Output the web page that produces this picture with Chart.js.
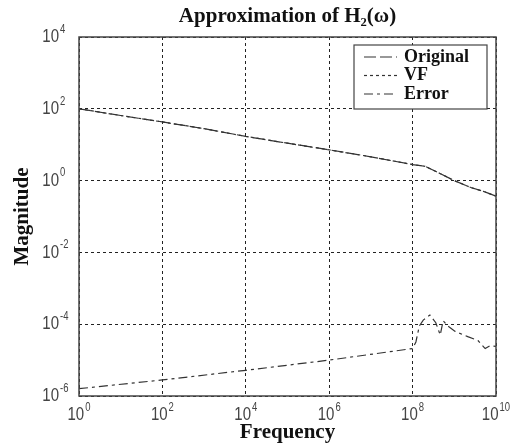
<!DOCTYPE html>
<html>
<head>
<meta charset="utf-8">
<script src="https://cdn.jsdelivr.net/npm/chart.js@4.4.1/dist/chart.umd.min.js"></script>
<style>
  body { margin: 0; background: #fff; }
</style>
</head>
<body>
<canvas id="myChart" width="517" height="447"></canvas>
<script>
// frequency points for the original / VF curves
const freq = [1, 1e1, 1e2, 1e3, 1e4, 1e5, 1e6, 1e7, 1e8, 2e8, 4e8, 1e9, 2.5e9, 5e9, 1e10];
const original = [100, 65, 43, 28, 17, 11, 7.2, 4.6, 2.8, 2.5, 1.7, 1.0, 0.64, 0.5, 0.37];
const vf = [100, 65, 43, 28, 17, 11, 7.2, 4.6, 2.8, 2.5, 1.7, 1.0, 0.64, 0.5, 0.37];

// error curve
const errFreq = [1, 1e2, 1e4, 1e6, 1e8, 1.2e8, 1.45e8, 1.8e8, 2.6e8, 3.6e8, 4.6e8, 5.4e8, 7e8, 1.05e9, 2.1e9, 3.7e9, 5.5e9, 7.2e9, 1e10];
const error = [1.6e-6, 2.8e-6, 5.2e-6, 1e-5, 2.1e-5, 3.2e-5, 8.9e-5, 1.3e-4, 1.8e-4, 1.1e-4, 5e-5, 1.25e-4, 8.9e-5, 6.3e-5, 4.5e-5, 3.5e-5, 2.1e-5, 2.5e-5, 2.4e-5];

// tick exponents (labels drawn as 10^n)
const xTickExp = [0, 2, 4, 6, 8, 10];
const yTickExp = [-6, -4, -2, 0, 2, 4];

const seriesNames = ['Original', 'VF', 'Error'];
const dashes = [[12, 4], [3, 3], [9, 4, 3, 4]];
const lineColor = '#333';
const serif = '"Liberation Serif", "Times New Roman", serif';

const toPoints = (xs, ys) => xs.map((x, i) => ({ x: x, y: ys[i] }));

// text slightly stretched vertically, like the original figure
function tallText(ctx, txt, x, y) {
  ctx.save();
  ctx.translate(x, y);
  ctx.scale(1, 1.25);
  ctx.fillText(txt, 0, 0);
  ctx.restore();
}

// draws the box, the 10^n tick labels and the legend
const decorPlugin = {
  id: 'decor',
  afterDraw(chart) {
    const ctx = chart.ctx;
    const a = chart.chartArea;
    const xs = chart.scales.x;
    const ys = chart.scales.y;
    ctx.save();

    // axes box
    ctx.setLineDash([]);
    ctx.strokeStyle = '#444';
    ctx.lineWidth = 1.5;
    ctx.strokeRect(a.left, a.top, a.right - a.left, a.bottom - a.top);

    // tick labels
    ctx.fillStyle = '#444';
    const big = '15px "Liberation Sans", Arial, sans-serif';
    const small = '9.5px "Liberation Sans", Arial, sans-serif';
    ctx.textBaseline = 'middle';
    xTickExp.forEach(e => {
      const px = xs.getPixelForValue(Math.pow(10, e));
      ctx.font = big;
      const w1 = ctx.measureText('10').width;
      ctx.font = small;
      const w2 = ctx.measureText(String(e)).width;
      const x0 = px - (w1 + w2 + 1) / 2;
      ctx.textAlign = 'left';
      ctx.font = big;
      tallText(ctx, '10', x0, a.bottom + 18.5);
      ctx.font = small;
      tallText(ctx, String(e), x0 + w1 + 1, a.bottom + 12);
    });
    yTickExp.forEach(e => {
      const py = ys.getPixelForValue(Math.pow(10, e));
      ctx.font = big;
      ctx.textAlign = 'right';
      tallText(ctx, '10', a.left - 20, py);
      ctx.font = small;
      ctx.textAlign = 'left';
      tallText(ctx, String(e), a.left - 19, py - 7.5);
    });

    // legend
    const lx = a.right - 142, ly = a.top + 8, lw = 133, lh = 64;
    ctx.fillStyle = '#fff';
    ctx.fillRect(lx, ly, lw, lh);
    ctx.strokeStyle = '#444';
    ctx.lineWidth = 1.2;
    ctx.strokeRect(lx, ly, lw, lh);
    ctx.font = 'bold 18px ' + serif;
    ctx.fillStyle = '#111';
    ctx.textAlign = 'left';
    seriesNames.forEach((name, i) => {
      const y = ly + 12 + i * 18.5;
      ctx.strokeStyle = lineColor;
      ctx.lineWidth = 1.2;
      ctx.setLineDash(dashes[i]);
      ctx.beginPath();
      ctx.moveTo(lx + 10, y);
      ctx.lineTo(lx + 43, y);
      ctx.stroke();
      ctx.setLineDash([]);
      ctx.fillText(name, lx + 50, y);
    });
    ctx.restore();
  }
};

const ctx = document.getElementById('myChart').getContext('2d');
new Chart(ctx, {
  type: 'line',
  data: {
    datasets: [
      { label: seriesNames[0], data: toPoints(freq, original), borderColor: lineColor, borderWidth: 1.2, borderDash: dashes[0], pointRadius: 0, tension: 0 },
      { label: seriesNames[1], data: toPoints(freq, vf), borderColor: lineColor, borderWidth: 1.2, borderDash: dashes[1], pointRadius: 0, tension: 0 },
      { label: seriesNames[2], data: toPoints(errFreq, error), borderColor: lineColor, borderWidth: 1.2, borderDash: dashes[2], pointRadius: 0, tension: 0 }
    ]
  },
  options: {
    responsive: false,
    animation: false,
    layout: { padding: { top: 0, right: 21, bottom: 0, left: 0 } },
    plugins: {
      legend: { display: false },
      tooltip: { enabled: false },
      title: {
        display: true,
        text: 'Approximation of H\u2082(\u03c9)',
        fullSize: false,
        color: '#111',
        font: { family: serif, size: 21, weight: 'bold', lineHeight: 1.2 },
        padding: { top: 4, bottom: 7.8 }
      }
    },
    scales: {
      x: {
        type: 'logarithmic',
        min: 1,
        max: 1e10,
        afterBuildTicks: s => { s.ticks = xTickExp.map(e => ({ value: Math.pow(10, e) })); },
        afterFit: s => { s.height = 51; },
        ticks: { display: false },
        grid: { color: '#222', lineWidth: 1, drawTicks: false },
        border: { display: false, dash: [3, 3] },
        title: {
          display: true,
          text: 'Frequency',
          color: '#111',
          font: { family: serif, size: 21, weight: 'bold', lineHeight: 1.2 },
          padding: { top: 0, bottom: 2 }
        }
      },
      y: {
        type: 'logarithmic',
        min: 1e-6,
        max: 1e4,
        afterBuildTicks: s => { s.ticks = yTickExp.map(e => ({ value: Math.pow(10, e) })); },
        afterFit: s => { s.width = 79; },
        ticks: { display: false },
        grid: { color: '#222', lineWidth: 1, drawTicks: false },
        border: { display: false, dash: [3, 3] },
        title: {
          display: true,
          text: 'Magnitude',
          color: '#111',
          font: { family: serif, size: 21, weight: 'bold', lineHeight: 1.2 },
          padding: { top: 10, bottom: 0 }
        }
      }
    }
  },
  plugins: [decorPlugin]
});
</script>
</body>
</html>
